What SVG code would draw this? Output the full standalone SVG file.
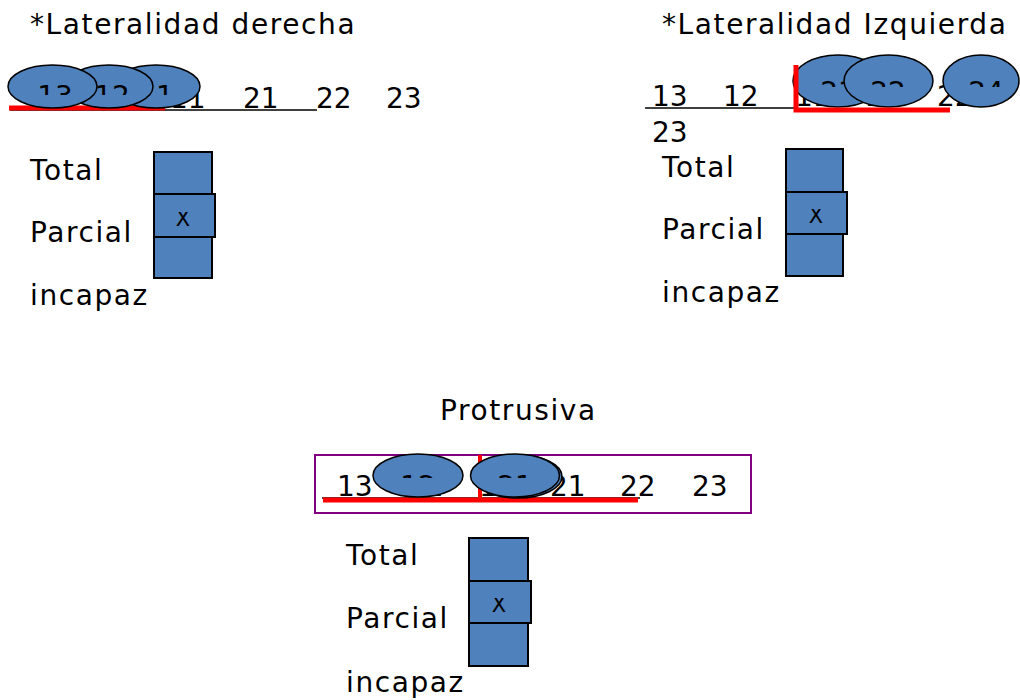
<svg xmlns="http://www.w3.org/2000/svg" width="1020" height="700" viewBox="0 0 1020 700">
<style>
text{font-family:"DejaVu Sans","Verdana",sans-serif;fill:#000}
.t{font-size:28px;letter-spacing:1.6px}
.n{font-size:28px}
.e{fill:#4F81BD;stroke:#000;stroke-width:1.5}
.b{fill:#4F81BD;stroke:#000;stroke-width:2}
.red{stroke:#FF0000;stroke-width:5;fill:none}
.ul{stroke:#000;stroke-width:1.5}
.x{font-size:21px;text-anchor:middle}
.el{font-size:28px;text-anchor:middle}
</style>
<defs>
<clipPath id="cL1"><rect x="8" y="60" width="90" height="35"/></clipPath>
<clipPath id="cL2"><rect x="65" y="60" width="90" height="35"/></clipPath>
<clipPath id="cL3"><rect x="112" y="60" width="90" height="35"/></clipPath>
<clipPath id="cR1"><rect x="793" y="50" width="90" height="37"/></clipPath>
<clipPath id="cR2"><rect x="843" y="50" width="90" height="37"/></clipPath>
<clipPath id="cR3"><rect x="942" y="50" width="78" height="37"/></clipPath>
<clipPath id="cP1"><rect x="373" y="450" width="90" height="28"/></clipPath>
<clipPath id="cP2"><rect x="470" y="450" width="90" height="28"/></clipPath>
<clipPath id="cX1"><rect x="154" y="212" width="60" height="20"/></clipPath>
<clipPath id="cX2"><rect x="786" y="209" width="60" height="20"/></clipPath>
<clipPath id="cX3"><rect x="469" y="598" width="60" height="20"/></clipPath>
</defs>

<!-- Top-left: Lateralidad derecha -->
<g id="title-derecha"><text class="t" x="30" y="34">*Lateralidad derecha</text></g>
<g id="row-derecha">
<text class="n" y="108"><tspan x="26">13</tspan><tspan x="98">12</tspan><tspan x="170">11</tspan><tspan x="243">21</tspan><tspan x="316">22</tspan><tspan x="386">23</tspan></text>
<line class="ul" x1="10" y1="110" x2="317" y2="110"/>
<line class="red" x1="9" y1="108" x2="165" y2="108"/>
</g>
<g id="ellipse-11"><ellipse class="e" cx="156" cy="86.5" rx="44" ry="21.5"/><text class="el" x="156" y="106" clip-path="url(#cL3)">11</text></g>
<g id="ellipse-12"><ellipse class="e" cx="109" cy="86.5" rx="44" ry="21.5"/><text class="el" x="112" y="106" clip-path="url(#cL2)">12</text></g>
<g id="ellipse-13"><ellipse class="e" cx="52.5" cy="86.5" rx="44.5" ry="21.5"/><text class="el" x="55" y="106" clip-path="url(#cL1)">13</text></g>
<g id="labels-derecha">
<text class="t" x="30" y="180">Total</text>
<text class="t" x="30" y="242">Parcial</text>
<text class="t" x="30" y="305">incapaz</text>
</g>
<g id="boxes-derecha">
<rect class="b" x="154" y="152" width="58" height="42"/>
<rect class="b" x="154" y="237" width="58" height="41"/>
<rect class="b" x="154" y="194" width="61" height="43"/>
<text class="x" x="183" y="226" clip-path="url(#cX1)">X</text>
</g>

<!-- Top-right: Lateralidad Izquierda -->
<g id="title-izquierda"><text class="t" x="662" y="34">*Lateralidad Izquierda</text></g>
<g id="row-izquierda">
<text class="n"><tspan x="652" y="106">13</tspan><tspan x="723" y="106">12</tspan><tspan x="795" y="106">11</tspan><tspan x="866" y="106">21</tspan><tspan x="937" y="106">22</tspan><tspan x="652" y="142">23</tspan></text>
<line class="ul" x1="645" y1="108" x2="797" y2="108"/>
</g>
<g id="ellipse-21"><ellipse class="e" cx="838" cy="81" rx="45" ry="26"/><text class="el" x="838" y="102" clip-path="url(#cR1)">21</text></g>
<g id="ellipse-22"><ellipse class="e" cx="888.5" cy="81" rx="44.5" ry="26"/><text class="el" x="888" y="102" clip-path="url(#cR2)">22</text></g>
<g id="ellipse-24"><ellipse class="e" cx="981" cy="81" rx="38" ry="26"/><text class="el" x="986" y="102" clip-path="url(#cR3)">24</text></g>
<g id="red-izquierda"><polyline class="red" points="796,65 796,110 950,110"/></g>
<g id="labels-izquierda">
<text class="t" x="662" y="177">Total</text>
<text class="t" x="662" y="239">Parcial</text>
<text class="t" x="662" y="302">incapaz</text>
</g>
<g id="boxes-izquierda">
<rect class="b" x="786" y="149" width="57" height="43"/>
<rect class="b" x="786" y="234" width="57" height="42"/>
<rect class="b" x="786" y="192" width="61" height="42"/>
<text class="x" x="816" y="223" clip-path="url(#cX2)">X</text>
</g>

<!-- Bottom: Protrusiva -->
<g id="title-protrusiva"><text class="t" x="440" y="420">Protrusiva</text></g>
<g id="frame-protrusiva"><rect x="315" y="455" width="436" height="58" fill="#fff" stroke="#800080" stroke-width="2"/></g>
<g id="row-protrusiva">
<text class="n" y="496"><tspan x="337">13</tspan><tspan x="408">12</tspan><tspan x="479">11</tspan><tspan x="550">21</tspan><tspan x="620">22</tspan><tspan x="692">23</tspan></text>
<line class="ul" x1="322" y1="498" x2="640" y2="498"/>
<line class="red" x1="323" y1="500" x2="638" y2="500"/>
<line x1="480" y1="455" x2="480" y2="500" stroke="#FF0000" stroke-width="4"/>
</g>
<g id="ellipse-p12"><ellipse class="e" cx="418" cy="475.5" rx="45" ry="21.5"/><text class="el" x="418" y="496" clip-path="url(#cP1)">12</text></g>
<g id="ellipse-p21">
<ellipse class="e" cx="518" cy="476.5" rx="44" ry="21.5"/>
<ellipse class="e" cx="515" cy="475.5" rx="44.5" ry="21.5"/>
<text class="el" x="515" y="496" clip-path="url(#cP2)">21</text></g>
<g id="labels-protrusiva">
<text class="t" x="346" y="565">Total</text>
<text class="t" x="346" y="628">Parcial</text>
<text class="t" x="346" y="692">incapaz</text>
</g>
<g id="boxes-protrusiva">
<rect class="b" x="469" y="538" width="59" height="43"/>
<rect class="b" x="469" y="623" width="59" height="43"/>
<rect class="b" x="469" y="581" width="62" height="42"/>
<text class="x" x="499" y="612" clip-path="url(#cX3)">X</text>
</g>
</svg>
